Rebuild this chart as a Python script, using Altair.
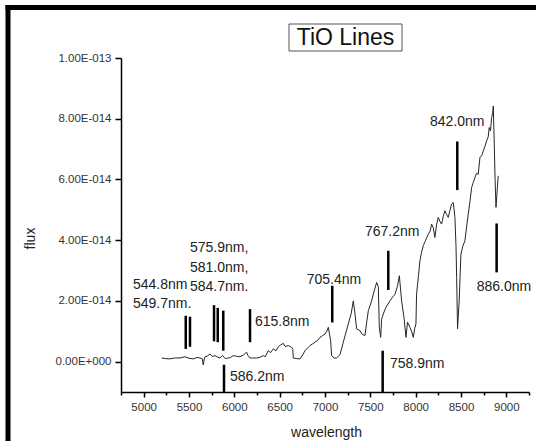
import altair as alt
import pandas as pd

# spectrum (wavelength in Angstrom, flux in units of 1e-14)
wavelength = [5200, 5240, 5290, 5340, 5400, 5456, 5500, 5548, 5590, 5621, 5645, 5658, 5670, 5676,
              5700, 5731, 5760, 5787, 5815, 5842, 5870, 5900, 5934, 5960, 5989, 6020, 6062, 6100,
              6136, 6150, 6173, 6210, 6246, 6280, 6319, 6340, 6374, 6400, 6430, 6460, 6485, 6510,
              6540, 6560, 6595, 6632, 6645, 6650, 6690, 6724, 6760, 6779, 6815, 6834, 6860, 6890,
              6920, 6945, 6970, 7000, 7020, 7037, 7062, 7073, 7100, 7128, 7165, 7202, 7230, 7257,
              7290, 7312, 7330, 7349, 7386, 7410, 7441, 7460, 7478, 7514, 7540, 7570, 7588, 7599,
              7614, 7625, 7643, 7660, 7673, 7716, 7740, 7772, 7800, 7820, 7845, 7871, 7893, 7910,
              7937, 7955, 7974, 7990, 8003, 8010, 8030, 8047, 8065, 8084, 8110, 8139, 8160, 8176,
              8195, 8212, 8230, 8249, 8270, 8286, 8305, 8323, 8340, 8359, 8380, 8396, 8415, 8433,
              8445, 8452, 8462, 8470, 8480, 8499, 8520, 8543, 8560, 8580, 8600, 8617, 8635, 8654,
              8670, 8690, 8709, 8730, 8746, 8765, 8782, 8800, 8811, 8825, 8838, 8850, 8856, 8867,
              8876, 8886, 8901, 8911]
flux_e14 = [0.12, 0.10, 0.09, 0.12, 0.12, 0.16, 0.11, 0.09, 0.14, 0.12, 0.10, -0.11, 0.12, 0.16,
            0.18, 0.25, 0.17, 0.20, 0.15, 0.12, 0.20, 0.10, 0.12, 0.14, 0.20, 0.18, 0.16, 0.22,
            0.31, 0.20, 0.12, 0.12, 0.12, 0.14, 0.20, 0.16, 0.36, 0.30, 0.42, 0.36, 0.49, 0.55,
            0.60, 0.50, 0.53, 0.47, 0.40, 0.12, 0.10, 0.09, 0.25, 0.36, 0.47, 0.53, 0.58, 0.64,
            0.70, 0.80, 0.85, 0.91, 1.00, 1.13, 0.69, 0.20, 0.12, 0.12, 0.23, 0.64, 0.95, 1.24,
            1.60, 2.00, 1.60, 1.08, 1.02, 0.90, 0.86, 1.30, 1.68, 2.00, 2.30, 2.61, 2.47, 1.13,
            0.80, 1.40, 1.57, 1.70, 1.79, 2.00, 2.10, 2.22, 2.50, 2.83, 2.00, 1.46, 0.80, 1.30,
            1.13, 1.00, 0.80, 1.10, 1.24, 2.22, 2.80, 3.32, 3.60, 3.82, 4.00, 4.20, 4.30, 4.53,
            4.40, 4.09, 4.50, 4.75, 4.60, 4.53, 4.80, 4.97, 4.85, 4.75, 5.00, 5.19, 5.24, 4.75,
            3.80, 2.77, 1.08, 1.50, 2.00, 3.54, 3.80, 3.98, 4.40, 4.86, 5.30, 5.73, 5.90, 6.06,
            6.20, 6.17, 6.72, 6.80, 6.94, 7.10, 7.27, 7.40, 7.71, 7.60, 8.04, 8.20, 8.42, 7.16,
            6.00, 5.08, 5.73, 6.12]

# TiO line markers (position in Angstrom, top / bottom in units of 1e-14)
marker_pos = [5464, 5511, 5776, 5817, 5878, 6173, 7080, 7698, 8459, 8893, 5886, 7636]
marker_top = [1.51, 1.48, 1.86, 1.77, 1.68, 1.73, 2.50, 3.65, 7.25, 4.55, -0.10, 0.36]
marker_bottom = [0.42, 0.49, 0.67, 0.64, 0.36, 0.64, 1.29, 2.36, 5.65, 2.94, -1.0, -1.0]

# annotation labels (left edge in Angstrom, centre in units of 1e-14)
label_text = ["544.8nm", "549.7nm.", "575.9nm,", "581.0nm,", "584.7nm.", "615.8nm",
              "586.2nm", "705.4nm", "758.9nm", "767.2nm", "842.0nm", "886.0nm"]
label_x = [4882, 4882, 5511, 5511, 5511, 6228, 5952, 6798, 7717, 7441, 8158, 8673]
label_y = [2.53, 1.91, 3.75, 3.09, 2.47, 1.32, -0.49, 2.70, -0.07, 4.28, 7.89, 2.47]

x_major = list(range(5000, 9001, 500))
x_minor = list(range(4750, 9251, 500))
y_ticks = [k * 1e-14 for k in range(0, 11)]

FONT = "Liberation Sans"

spec = pd.DataFrame({"wavelength": wavelength, "flux": [v * 1e-14 for v in flux_e14]})
marks = pd.DataFrame({"pos": marker_pos,
                      "top": [v * 1e-14 for v in marker_top],
                      "bottom": [v * 1e-14 for v in marker_bottom]})
labels = pd.DataFrame({"x": label_x, "y": [v * 1e-14 for v in label_y], "text": label_text})
one = pd.DataFrame({"a": [0]})

xscale = alt.Scale(domain=[4750, 9250], nice=False, zero=False)
yscale = alt.Scale(domain=[-1e-14, 1e-13], nice=False, zero=False)

xaxis = alt.Axis(
    values=x_major, format="d", tickSize=5, orient="bottom",
    title="wavelength", titleX=205, titleY=40, titleBaseline="middle", titleAlign="center",
    labelPadding=4, labelOverlap=False, labelFlush=False, grid=False,
)
xaxis_minor = alt.Axis(
    values=x_minor, tickSize=3, orient="bottom", labels=False, domain=False, title=None, grid=False,
)
yaxis = alt.Axis(
    values=y_ticks,
    labelExpr="round(datum.value * 1e14) % 2 === 0 ? replace(replace(format(datum.value, '.2e'), 'e-', 'E-0'), 'e+', 'E+00') : ''",
    tickSize={"condition": {"test": "round(datum.value * 1e14) % 2 === 0", "value": 6}, "value": 3.5},
    title="flux", titleX=-91, titleY=180, titleAngle=-90, titleBaseline="middle", titleAlign="center",
    labelPadding=4, labelOverlap=False, labelFlush=False, grid=False,
)

line = alt.Chart(spec).mark_line(color="#262626", strokeWidth=1).encode(
    x=alt.X("wavelength:Q", scale=xscale, axis=xaxis),
    y=alt.Y("flux:Q", scale=yscale, axis=yaxis),
)

minor = alt.Chart(spec).mark_point(opacity=0).encode(
    x=alt.X("wavelength:Q", scale=xscale, axis=xaxis_minor),
    y=alt.Y("flux:Q", scale=yscale),
)

bars = alt.Chart(marks).mark_rule(color="black", strokeWidth=2.5).encode(
    x=alt.X("pos:Q", scale=xscale, axis=None),
    y=alt.Y("top:Q", scale=yscale),
    y2="bottom:Q",
)

texts = alt.Chart(labels).mark_text(
    align="left", baseline="middle", font=FONT, fontSize=14, color="#222222"
).encode(
    x=alt.X("x:Q", scale=xscale, axis=None),
    y=alt.Y("y:Q", scale=yscale),
    text="text:N",
)

title_box = alt.Chart(one).mark_rect(fill="white", stroke="#555555", strokeWidth=1).encode(
    x=alt.value(168), x2=alt.value(281), y=alt.value(-34), y2=alt.value(-7)
)
title_text = alt.Chart(one).mark_text(
    text="TiO Lines", font=FONT, fontSize=23, align="center", baseline="middle", color="#111111"
).encode(x=alt.value(224.5), y=alt.value(-20.5))

frame_left = alt.Chart(one).mark_rule(color="black", strokeWidth=5).encode(
    x=alt.value(-113), y=alt.value(-53), y2=alt.value(383)
)
frame_top = alt.Chart(one).mark_rule(color="black", strokeWidth=5).encode(
    x=alt.value(-115.5), x2=alt.value(415), y=alt.value(-50.5)
)

chart = alt.layer(line, minor, bars, texts, title_box, title_text, frame_left, frame_top).resolve_axis(
    x="independent"
).properties(
    width=408, height=334,
    autosize=alt.AutoSizeParams(type="none"),
    padding={"left": 121, "top": 58, "right": 7, "bottom": 49},
    background="white",
).configure_view(stroke=None).configure_axis(
    domainColor="black", domainWidth=1.5, tickColor="black", tickWidth=1.5,
    labelFont=FONT, labelFontSize=11.5, labelColor="#333333",
    titleFont=FONT, titleFontSize=14, titleFontWeight="normal", titleColor="#222222",
)

chart.save("out.html", embed_options={"renderer": "svg", "actions": False})
